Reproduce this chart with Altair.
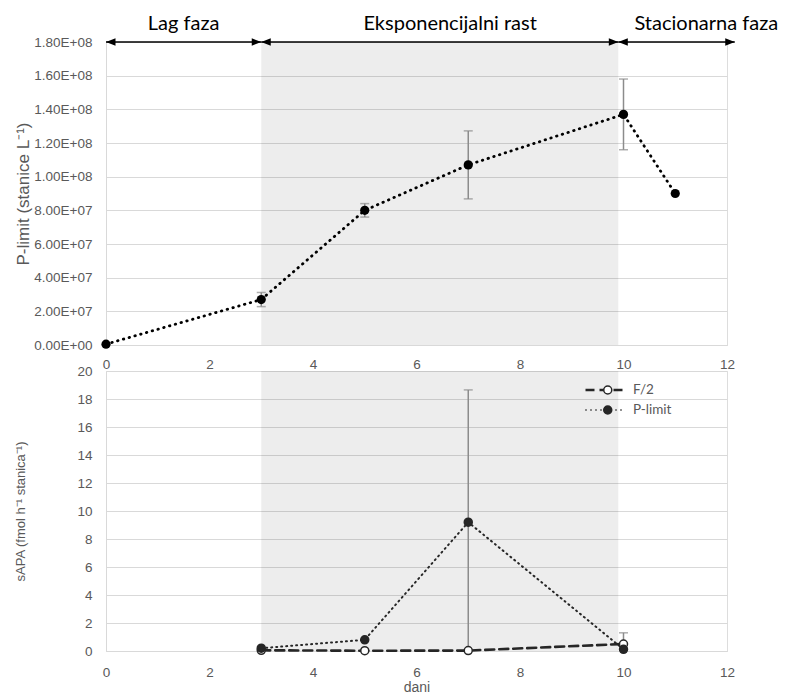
import altair as alt
import pandas as pd

# ---------------- data ----------------
days_top = [0, 3, 5, 7, 10, 11]
cells = [5.0e5, 2.7e7, 8.0e7, 1.07e8, 1.37e8, 9.0e7]
cells_err = [0, 4.2e6, 4.0e6, 2.02e7, 2.1e7, 0]

days_bottom = [3, 5, 7, 10]
sapa_f2 = [0.05, 0.02, 0.03, 0.5]
sapa_f2_err = [0, 0, 0, 0.8]
sapa_p = [0.2, 0.8, 9.2, 0.12]
sapa_p_err = [0, 0, 9.45, 0]

series_names = ["F/2", "P-limit"]

phase_names = ["Lag faza", "Eksponencijalni rast", "Stacionarna faza"]
phase_start = [0, 3, 9.9]
phase_end = [3, 9.9, 12.15]
phase_label_x = [1.5, 6.65, 11.6]
shade_start = [3]
shade_end = [9.9]

x_ticks = [0, 2, 4, 6, 8, 10, 12]
y_top_ticks = [0, 2e7, 4e7, 6e7, 8e7, 1e8, 1.2e8, 1.4e8, 1.6e8, 1.8e8]
y_top_max = 1.8e8
y_bottom_ticks = [0, 2, 4, 6, 8, 10, 12, 14, 16, 18, 20]

FONT = "Lato"
GRAY = "#595959"
GRID = "#d9d9d9"
ERR = "#8c8c8c"
DARK = "#262626"
TICK_FS = 13.5

W = 621
H_TOP = 303
H_BOT = 280

# ---------------- tables ----------------
top = pd.DataFrame({"dan": days_top, "val": cells, "err": cells_err})
top["lo"] = top["val"] - top["err"]
top["hi"] = top["val"] + top["err"]
top_err = top[top["err"] > 0]

rows = []
for name, vals, errs in [("F/2", sapa_f2, sapa_f2_err), ("P-limit", sapa_p, sapa_p_err)]:
    for d, v, e in zip(days_bottom, vals, errs):
        rows.append({"dan": d, "series": name, "serie": name, "val": v, "err": e,
                     "lo": v - e, "hi": v + e})
bot = pd.DataFrame(rows)
bot_err = bot[bot["err"] > 0]

shade = pd.DataFrame({"s": shade_start, "e": shade_end})
phases = pd.DataFrame({"name": phase_names, "s": phase_start, "e": phase_end,
                       "lx": phase_label_x, "y": [y_top_max] * 3})

xscale = alt.Scale(domain=[0, 12], nice=False)
ytop_scale = alt.Scale(domain=[0, y_top_max], nice=False)
ybot_scale = alt.Scale(domain=[0, 20], nice=False)

sci_expr = ("datum.value == 0 ? '0.00E+00' : "
            "format(datum.value / pow(10, floor(log(datum.value)/LN10 + 1e-9)), '.2f') + 'E+' + "
            "(floor(log(datum.value)/LN10 + 1e-9) < 10 ? '0' : '') + "
            "floor(log(datum.value)/LN10 + 1e-9)")

def x_axis(title=None, pad=12):
    return alt.Axis(values=x_ticks, title=title, grid=False, labelFlush=False, ticks=False,
                    tickSize=0, domainColor=GRID, labelColor=GRAY, labelFontSize=TICK_FS,
                    labelPadding=pad, titleColor=GRAY, titleFontSize=14,
                    titleFontWeight="normal", titlePadding=2, labelOverlap=False)

def y_axis(values, title, tfs, tx, expr=None):
    kw = dict(values=values, title=title, grid=True, gridColor=GRID, ticks=False, tickSize=0,
              domainColor=GRID, labelColor=GRAY, labelFontSize=TICK_FS, labelPadding=14,
              labelOverlap=False, tickCount=len(values),
              titleColor=GRAY, titleFontSize=tfs, titleFontWeight="normal",
              titleX=tx, titleBaseline="middle")
    if expr:
        kw["labelExpr"] = expr
    return alt.Axis(**kw)

top_yaxis = y_axis(y_top_ticks, "P-limit (stanice L\u207b\u00b9)", 17, -83, sci_expr)
bot_yaxis = y_axis(y_bottom_ticks, "sAPA (fmol h\u207b\u00b9 stanica\u207b\u00b9)", 13, -86)

def yt(field):
    return alt.Y(field, scale=ytop_scale, axis=top_yaxis)

def yb(field):
    return alt.Y(field, scale=ybot_scale, axis=bot_yaxis)

# ---------------- top panel ----------------
t_shade = alt.Chart(shade).mark_rect(color="#000000", opacity=0.07).encode(
    x=alt.X("s:Q", scale=xscale, axis=x_axis()), x2="e:Q")

t_err = alt.Chart(top_err).mark_rule(color=ERR, strokeWidth=1.5).encode(
    x="dan:Q", y=yt("lo:Q"), y2="hi:Q")
t_cap = alt.Chart(top_err).transform_fold(["lo", "hi"], as_=["k", "cy"]).mark_tick(
    orient="horizontal", size=9, thickness=1.5, color=ERR).encode(
    x="dan:Q", y=yt("cy:Q"))

t_line = alt.Chart(top).mark_line(color="#000000", strokeWidth=2.8, strokeDash=[0.5, 5.5],
                                  strokeCap="round").encode(x="dan:Q", y=yt("val:Q"))
t_pts = alt.Chart(top).mark_circle(color="#000000", size=85, opacity=1).encode(
    x="dan:Q", y=yt("val:Q"))

a_rule = alt.Chart(phases).mark_rule(color="#000000", strokeWidth=1.3).encode(
    x="s:Q", x2="e:Q", y=yt("y:Q"))
a_left = alt.Chart(phases).mark_point(shape="M0,0L1.9,-0.75L1.9,0.75Z", filled=True,
                                      size=100, color="#000000", opacity=1).encode(
    x="s:Q", y=yt("y:Q"))
a_right = alt.Chart(phases).mark_point(shape="M0,0L-1.9,-0.75L-1.9,0.75Z", filled=True,
                                       size=100, color="#000000", opacity=1).encode(
    x="e:Q", y=yt("y:Q"))
a_text = alt.Chart(phases).mark_text(fontSize=20, font=FONT, color="#000000",
                                     baseline="alphabetic", dy=-12).encode(
    x="lx:Q", y=yt("y:Q"), text="name:N")

top_chart = alt.layer(t_shade, t_err, t_cap, t_line, t_pts, a_rule, a_left, a_right,
                      a_text).properties(width=W, height=H_TOP)

# ---------------- bottom panel ----------------
b_shade = alt.Chart(shade).mark_rect(color="#000000", opacity=0.07).encode(
    x=alt.X("s:Q", scale=xscale, axis=x_axis("dani", 14)), x2="e:Q")

b_err = alt.Chart(bot_err).mark_rule(color=ERR, strokeWidth=1.5, clip=True).encode(
    x="dan:Q", y=yb("lo:Q"), y2="hi:Q")
b_cap = alt.Chart(bot_err).transform_fold(["lo", "hi"], as_=["k", "cy"]).transform_filter(
    "datum.cy >= 0").mark_tick(orient="horizontal", size=9, thickness=1.5, color=ERR).encode(
    x="dan:Q", y=yb("cy:Q"))

b_line = alt.Chart(bot).mark_line(color=DARK, strokeCap="round").encode(
    x="dan:Q",
    y=yb("val:Q"),
    strokeDash=alt.StrokeDash(
        "series:N",
        scale=alt.Scale(domain=series_names, range=[[9, 5], [1, 4]]),
        legend=alt.Legend(title=None, orient="none", legendX=478, legendY=9, padding=0,
                          symbolType="M-1,0L1,0", symbolSize=1600, symbolStrokeWidth=2.3,
                          symbolStrokeColor=DARK, symbolFillColor="transparent",
                          labelFont=FONT, labelFontSize=TICK_FS, labelColor=GRAY,
                          labelOffset=6, clipHeight=20, rowPadding=0)),
    strokeWidth=alt.StrokeWidth("series:N",
                                scale=alt.Scale(domain=series_names, range=[2.6, 2.0]),
                                legend=None),
)
b_pts = alt.Chart(bot).mark_point(size=64, strokeWidth=1.5, stroke=DARK, opacity=1,
                                  filled=False).encode(
    x="dan:Q", y=yb("val:Q"),
    fill=alt.Fill("serie:N", scale=alt.Scale(range=["#ffffff", DARK]),
                  legend=alt.Legend(title=None, orient="none", legendX=495, legendY=9,
                                    padding=0, symbolType="circle", symbolSize=64,
                                    symbolStrokeColor=DARK, symbolStrokeWidth=1.5,
                                    labelExpr="''", labelFontSize=TICK_FS, labelOffset=6,
                                    clipHeight=20, rowPadding=0)),
)

bottom_chart = alt.layer(b_shade, b_err, b_cap, b_line, b_pts).properties(
    width=W, height=H_BOT)

chart = alt.vconcat(top_chart, bottom_chart, spacing=-8).resolve_scale(
    strokeDash="independent", fill="independent", strokeWidth="independent"
).properties(
    padding={"left": 5, "top": 5, "right": 0, "bottom": 0}
).configure_view(stroke=None).configure_axis(
    labelFont=FONT, titleFont=FONT
).configure(background="white")

chart.save("out.html", embed_options={"renderer": "svg", "actions": False})
